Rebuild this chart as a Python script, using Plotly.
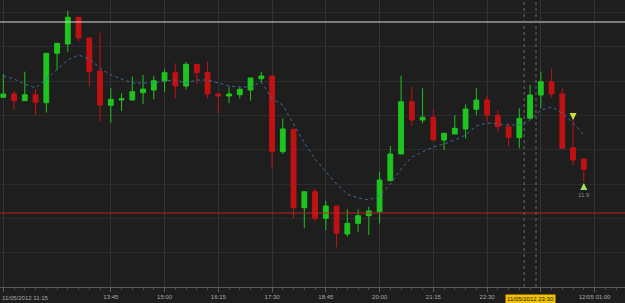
import pandas as pd
import plotly.graph_objects as go

# 15-minute candles, 11/05/2012 11:15 .. 12/05/2012 00:45 (price units)
times = pd.date_range("2012-05-11 11:15", periods=55, freq="15min")

opens = [202.7, 206.0, 199.3, 205.3, 197.3, 246.7, 256.0, 282.7, 262.0, 229.0,
         194.7, 200.0, 200.0, 207.3, 210.0, 219.0, 227.3, 214.0, 235.7, 227.7,
         206.0, 204.0, 205.3, 210.0, 221.3, 224.0, 148.3, 170.7, 92.3, 108.3,
         81.7, 94.0, 66.0, 76.7, 84.3, 88.3, 119.3, 146.0, 198.3, 180.0,
         182.7, 160.0, 166.0, 171.0, 190.7, 200.0, 184.7, 173.3, 162.3, 181.7,
         205.0, 218.3, 206.0, 152.3, 141.0]
highs = [226.0, 209.3, 228.3, 210.7, 246.7, 256.7, 289.3, 282.7, 262.0, 267.3,
         211.7, 206.7, 223.3, 225.0, 224.3, 230.7, 236.7, 238.0, 235.7, 238.3,
         206.0, 213.3, 212.7, 222.0, 228.3, 224.0, 181.7, 170.7, 108.3, 111.7,
         99.3, 94.0, 90.7, 90.7, 93.3, 128.3, 154.0, 224.3, 213.3, 211.7,
         190.0, 166.7, 185.0, 195.7, 211.7, 204.0, 190.0, 176.7, 191.7, 215.0,
         228.3, 231.7, 211.7, 184.0, 141.0]
lows = [202.0, 190.0, 199.3, 185.0, 187.3, 230.0, 248.3, 258.3, 213.3, 178.3,
        177.3, 189.0, 200.0, 196.0, 200.7, 208.3, 201.7, 210.7, 216.0, 201.7,
        186.7, 196.7, 201.3, 199.3, 216.7, 131.7, 146.0, 81.7, 71.7, 78.3,
        70.0, 52.7, 63.3, 68.3, 65.0, 76.7, 119.3, 146.0, 174.0, 176.7,
        160.0, 150.0, 166.0, 161.7, 185.0, 178.3, 168.3, 153.3, 151.7, 181.7,
        192.0, 202.7, 151.7, 135.0, 118.3]
closes = [206.0, 199.3, 205.3, 197.7, 246.7, 256.7, 282.7, 262.0, 228.3, 195.0,
          200.7, 201.3, 208.3, 211.0, 219.3, 227.3, 214.0, 235.7, 227.3, 206.0,
          204.0, 206.0, 210.7, 222.0, 224.0, 148.3, 171.0, 92.3, 108.3, 81.7,
          94.0, 66.7, 76.7, 84.3, 89.0, 120.0, 146.0, 198.3, 180.0, 182.7,
          160.0, 166.7, 171.7, 191.0, 200.0, 185.0, 173.3, 162.7, 181.7, 205.0,
          218.3, 206.0, 151.7, 140.0, 130.7]
moving_avg = [224, 221, 216, 212, 221, 231, 240, 245, 241, 232,
              225, 221, 217, 217, 217, 219, 220, 217, 220, 220,
              217, 214, 213, 213, 218, 201, 195, 176, 157, 141,
              128, 116, 106, 102, 100, 104, 116, 131, 143, 148,
              153, 156, 160, 165, 174, 177, 176, 175, 175, 180,
              190, 193, 187, 177, 165]

tick_idx = [0, 10, 15, 20, 25, 30, 35, 40, 45, 50, 55]
tick_text = ["", "13:45", "15:00", "16:15", "17:30", "18:45", "20:00",
             "21:15", "22:30", "", "12/05 01:00"]

resistance_level = 278.0
support_level = 87.0
down_signal = 180.0   # tip of the sell arrow
up_signal = 117.0     # tip of the buy arrow
signal_text_level = 105.5
signal_label = "11.9"
first_label = "11/05/2012 11:15"
cursor_label = "11/05/2012 23:30"
cursor_idx = 49

step = pd.Timedelta(minutes=15)
t0 = times[0]
all_ticks = [t0 + step * i for i in tick_idx]
x_start = t0 - step * 0.307
x_end = t0 + step * 57.83

GREEN = "#1fc41f"
RED = "#c01212"
FONT = "Liberation Sans"

fig = go.Figure()
fig.add_trace(go.Scatter(
    x=times, y=moving_avg, mode="lines",
    line=dict(color="#3a6c9e", width=1, dash="dot"),
    hoverinfo="skip", showlegend=False))
fig.add_trace(go.Candlestick(
    x=times, open=opens, high=highs, low=lows, close=closes,
    increasing=dict(line=dict(color=GREEN, width=1), fillcolor=GREEN),
    decreasing=dict(line=dict(color=RED, width=1), fillcolor=RED),
    whiskerwidth=0, showlegend=False))

shapes = [
    dict(type="line", xref="paper", x0=0, x1=1, yref="y",
         y0=resistance_level, y1=resistance_level,
         line=dict(color="#d8d8d8", width=1)),
    dict(type="line", xref="paper", x0=0, x1=1, yref="y",
         y0=support_level, y1=support_level,
         line=dict(color="#c02020", width=1)),
]
for off in (-0.55, 0.55):
    xc = times[cursor_idx] + step * off
    shapes.append(dict(type="line", xref="x", x0=xc, x1=xc, yref="paper",
                       y0=0, y1=1, line=dict(color="#6a6a6a", width=1, dash="dot")))

fig.update_layout(
    width=625, height=303,
    margin=dict(l=0, r=0, t=0, b=16),
    paper_bgcolor="#1e1e1e", plot_bgcolor="#1e1e1e",
    boxgap=0.36,
    shapes=shapes,
    showlegend=False,
    font=dict(family=FONT, size=6, color="#a8a8a8"),
    xaxis=dict(
        type="date", range=[x_start, x_end],
        rangeslider=dict(visible=False),
        tickmode="array", tickvals=all_ticks, ticktext=tick_text,
        showgrid=True, gridcolor="#333333", gridwidth=1,
        showline=True, linecolor="#5a5a5a", linewidth=1,
        ticks="outside", ticklen=4, tickcolor="#5a5a5a",
        tickfont=dict(family=FONT, size=6, color="#a8a8a8"),
        minor=dict(tickmode="linear", tick0=t0, dtick=900000,
                   ticks="outside", ticklen=2, tickcolor="#4a4a4a", showgrid=False),
        zeroline=False, fixedrange=True,
    ),
    yaxis=dict(
        range=[13, 300], tickmode="linear", tick0=13, dtick=34.3,
        showgrid=True, gridcolor="#2c2c2c", gridwidth=1,
        showticklabels=False, zeroline=False, showline=False, fixedrange=True,
    ),
    annotations=[
        dict(text=first_label, xref="paper", x=0, xanchor="left",
             yref="paper", y=0, yanchor="middle", yshift=-11, showarrow=False,
             font=dict(family=FONT, size=6, color="#a8a8a8")),
        dict(text=cursor_label, xref="x", x=times[cursor_idx], xanchor="center",
             yref="paper", y=0, yanchor="middle", yshift=-12, showarrow=False,
             bgcolor="#f2c200", borderpad=1,
             font=dict(family=FONT, size=6, color="#1a1a1a")),
        dict(text=signal_label, x=times[54], y=signal_text_level, xref="x", yref="y",
             showarrow=False, yanchor="middle",
             font=dict(family=FONT, size=6, color="#8a8a8a")),
        # sell signal arrow (pointing down)
        dict(text="", x=times[53], y=down_signal, xref="x", yref="y",
             showarrow=True, ax=0, ay=-8, arrowhead=2, arrowsize=0.7,
             arrowwidth=2, arrowcolor="#c8e23c"),
        # buy signal arrow (pointing up)
        dict(text="", x=times[54], y=up_signal, xref="x", yref="y",
             showarrow=True, ax=0, ay=8, arrowhead=2, arrowsize=0.7,
             arrowwidth=2, arrowcolor="#9ee05a"),
    ],
)

fig.write_html("out.html")
